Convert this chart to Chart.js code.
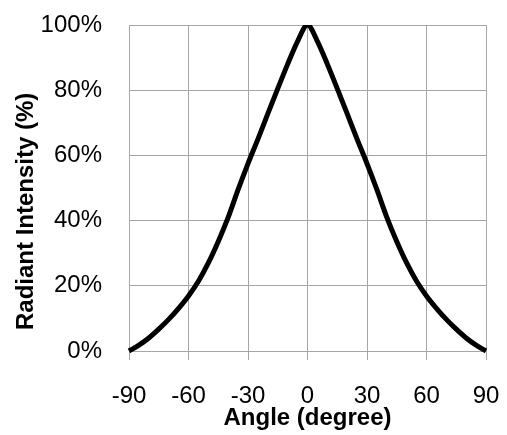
<!DOCTYPE html>
<html>
<head>
<meta charset="utf-8">
<script src="https://cdn.jsdelivr.net/npm/chart.js@4"></script>
<style>
  html, body { margin: 0; padding: 0; background: #fff; }
  canvas { display: block; }
</style>
</head>
<body>
<canvas id="beam" width="507" height="435"></canvas>
<script>
// Data
const angles = [-90, -85, -80, -75, -70, -65, -60, -55, -50, -45, -40, -35, -30, -25, -20, -15, -10, -5, 0,
                5, 10, 15, 20, 25, 30, 35, 40, 45, 50, 55, 60, 65, 70, 75, 80, 85, 90];
const intensity = [0, 1.8, 4.0, 6.7, 9.7, 13.1, 16.9, 21.4, 27, 33.6, 41, 49.5, 57.5, 65, 72.8, 80.5, 88, 95, 100,
                   95, 88, 80.5, 72.8, 65, 57.5, 49.5, 41, 33.6, 27, 21.4, 16.9, 13.1, 9.7, 6.7, 4.0, 1.8, 0];
const xTicks = [-90, -60, -30, 0, 30, 60, 90];
const yTicks = [0, 20, 40, 60, 80, 100];

const GRID = '#a6a6a6';

Chart.defaults.font.family = '"Liberation Sans", Arial, sans-serif';
Chart.defaults.color = '#000';

const ctx = document.getElementById('beam').getContext('2d');
new Chart(ctx, {
    type: 'line',
    data: {
        datasets: [{
            data: angles.map((a, i) => ({ x: a, y: intensity[i] })),
            borderColor: '#000',
            borderWidth: 5,
            pointRadius: 0,
            cubicInterpolationMode: 'monotone',
            clip: { left: 3, right: 3, top: 0, bottom: 3 }
        }]
    },
    options: {
        responsive: false,
        animation: false,
        layout: { padding: { top: 25, right: 21, left: 0, bottom: 0 } },
        plugins: { legend: { display: false }, tooltip: { enabled: false } },
        scales: {
            x: {
                type: 'linear',
                min: -90,
                max: 90,
                afterBuildTicks: s => { s.ticks = xTicks.map(v => ({ value: v })); },
                afterFit: s => { s.height = 84; s.paddingLeft = 0; s.paddingRight = 0; },
                grid: { color: GRID, tickLength: 9 },
                border: { color: GRID },
                ticks: { font: { size: 24 }, padding: 22, maxRotation: 0 },
                title: {
                    display: true,
                    text: 'Angle (degree)',
                    font: { size: 24, weight: 'bold' },
                    padding: { top: 0, bottom: 2 }
                }
            },
            y: {
                min: 0,
                max: 100,
                afterBuildTicks: s => { s.ticks = yTicks.map(v => ({ value: v })); },
                afterFit: s => { s.width = 129; s.paddingTop = 0; s.paddingBottom = 0; },
                grid: { color: GRID, drawTicks: false },
                border: { color: GRID },
                ticks: { font: { size: 24 }, padding: 27, callback: v => v + '%' },
                title: {
                    display: true,
                    // trailing spaces push the title down a little, as in the original
                    text: 'Radiant Intensity (%)       ',
                    font: { size: 24, weight: 'bold' },
                    padding: { top: 12, bottom: 0 }
                }
            }
        }
    }
});
</script>
</body>
</html>
